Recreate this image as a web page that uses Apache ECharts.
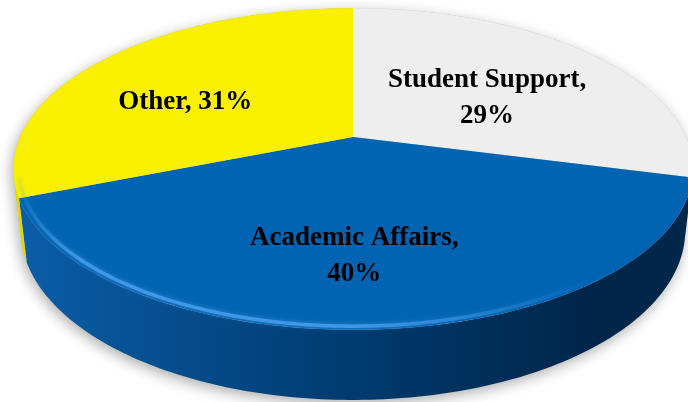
<!DOCTYPE html>
<html>
<head>
<meta charset="utf-8">
<script src="https://cdn.jsdelivr.net/npm/echarts@6/dist/echarts.min.js"></script>
<style>
  html, body { margin: 0; padding: 0; background: #fff; }
  #main { width: 688px; height: 402px; }
</style>
</head>
<body>
<div id="main"></div>
<script>
// data
var categories = ['Student Support', 'Academic Affairs', 'Other'];
var values = [29, 40, 31];

// look of the slices (top face, side wall gradient stops, edge highlight)
var topColors = ['#EEEEEE', '#0064B2', '#F8F000'];
var wallStops = [
  ['#C8C8C8', '#A8A8A8', '#909090'],
  ['#0B5EA9', '#003E75', '#00264A'],
  ['#E2D900', '#BDB500', '#9A9300']
];
var edgeColors = ['rgba(255,255,255,0.8)', 'rgba(70,155,235,0.9)', 'rgba(255,255,170,0.9)'];

// perspective of the disk (unit radius)
var CX = 353, CY = 137;
var F = 1485, DIST = 4.46, SIN = 0.464, COS = 0.886, THICK = 0.21;

function proj(t, r, z) {
  var x = r * Math.cos(t), y = r * Math.sin(t);
  var d = DIST + y * COS - z * SIN;
  return [CX + F * x / d, CY - F * (y * SIN + z * COS) / d];
}

function arc(a0, a1, r, z) {
  var pts = [];
  var n = Math.max(2, Math.ceil(Math.abs(a1 - a0) / (Math.PI / 180)));
  for (var i = 0; i <= n; i++) {
    pts.push(proj(a0 + (a1 - a0) * i / n, r, z));
  }
  return pts;
}

var total = values.reduce(function (s, v) { return s + v; }, 0);
var starts = [], ends = [];
var acc = Math.PI / 2;
values.forEach(function (v) {
  starts.push(acc);
  acc -= v / total * Math.PI * 2;
  ends.push(acc);
});

// visible part of the side wall (tangent points seen from the camera)
var tang = Math.acos(1 / (DIST * COS));
var visLo = -Math.PI / 2 - tang, visHi = -Math.PI / 2 + tang;

function labelText(i) {
  var pct = Math.round(values[i] / total * 100) + '%';
  return categories[i] + (categories[i].length > 6 ? ',\n' : ', ') + pct;
}

function renderItem(params, api) {
  var i = params.dataIndex;
  var children = [];

  if (i === 0) {
    var sil = arc(visHi, visLo + Math.PI * 2, 1, 0).concat(arc(visLo, visHi, 1, -THICK));
    children.push({
      type: 'polygon', z2: 1,
      shape: { points: sil },
      style: {
        fill: '#bbbbbb',
        shadowBlur: 14, shadowColor: 'rgba(0,0,0,0.32)', shadowOffsetX: -2, shadowOffsetY: 4
      }
    });
  }

  var lo = Math.max(ends[i], visLo), hi = Math.min(starts[i], visHi);
  if (hi > lo) {
    var wall = arc(hi, lo, 1, 0).concat(arc(lo, hi, 1, -THICK));
    var st = wallStops[i];
    children.push({
      type: 'polygon', z2: 2,
      shape: { points: wall },
      style: {
        fill: {
          type: 'linear', global: true, x: 12, y: 0, x2: 690, y2: 0,
          colorStops: [
            { offset: 0, color: st[0] },
            { offset: 0.45, color: st[1] },
            { offset: 0.85, color: st[2] },
            { offset: 1, color: st[2] }
          ]
        }
      }
    });
    children.push({
      type: 'polyline', z2: 5,
      shape: { points: arc(hi, lo, 0.985, 0) },
      style: {
        fill: null,
        lineWidth: 3.5,
        stroke: {
          type: 'linear', global: true, x: 12, y: 0, x2: 690, y2: 0,
          colorStops: [
            { offset: 0, color: 'rgba(70,155,235,0)' },
            { offset: 0.1, color: edgeColors[i] },
            { offset: 0.5, color: edgeColors[i] },
            { offset: 0.85, color: 'rgba(70,155,235,0)' },
            { offset: 1, color: 'rgba(70,155,235,0)' }
          ]
        },
        shadowBlur: 5, shadowColor: 'rgba(70,155,235,0.7)'
      }
    });
  }

  var top = [proj(0, 0, 0)].concat(arc(starts[i], ends[i], 1, 0));
  children.push({
    type: 'polygon', z2: 4,
    shape: { points: top },
    style: { fill: topColors[i] }
  });

  var mid = (starts[i] + ends[i]) / 2;
  var lp = proj(mid, 0.6, 0);
  children.push({
    type: 'text', z2: 10,
    x: lp[0] - 13, y: lp[1] + 14,
    style: {
      text: labelText(i),
      fill: '#000',
      font: 'bold 27px "Liberation Serif"',
      lineHeight: 36,
      align: 'center',
      verticalAlign: 'middle'
    }
  });

  return { type: 'group', children: children };
}

var chart = echarts.init(document.getElementById('main'));
chart.setOption({
  animation: false,
  backgroundColor: '#fff',
  series: [{
    type: 'custom',
    coordinateSystem: 'none',
    renderItem: renderItem,
    data: values.map(function (v, i) { return { name: categories[i], value: [v] }; })
  }]
});
</script>
</body>
</html>
